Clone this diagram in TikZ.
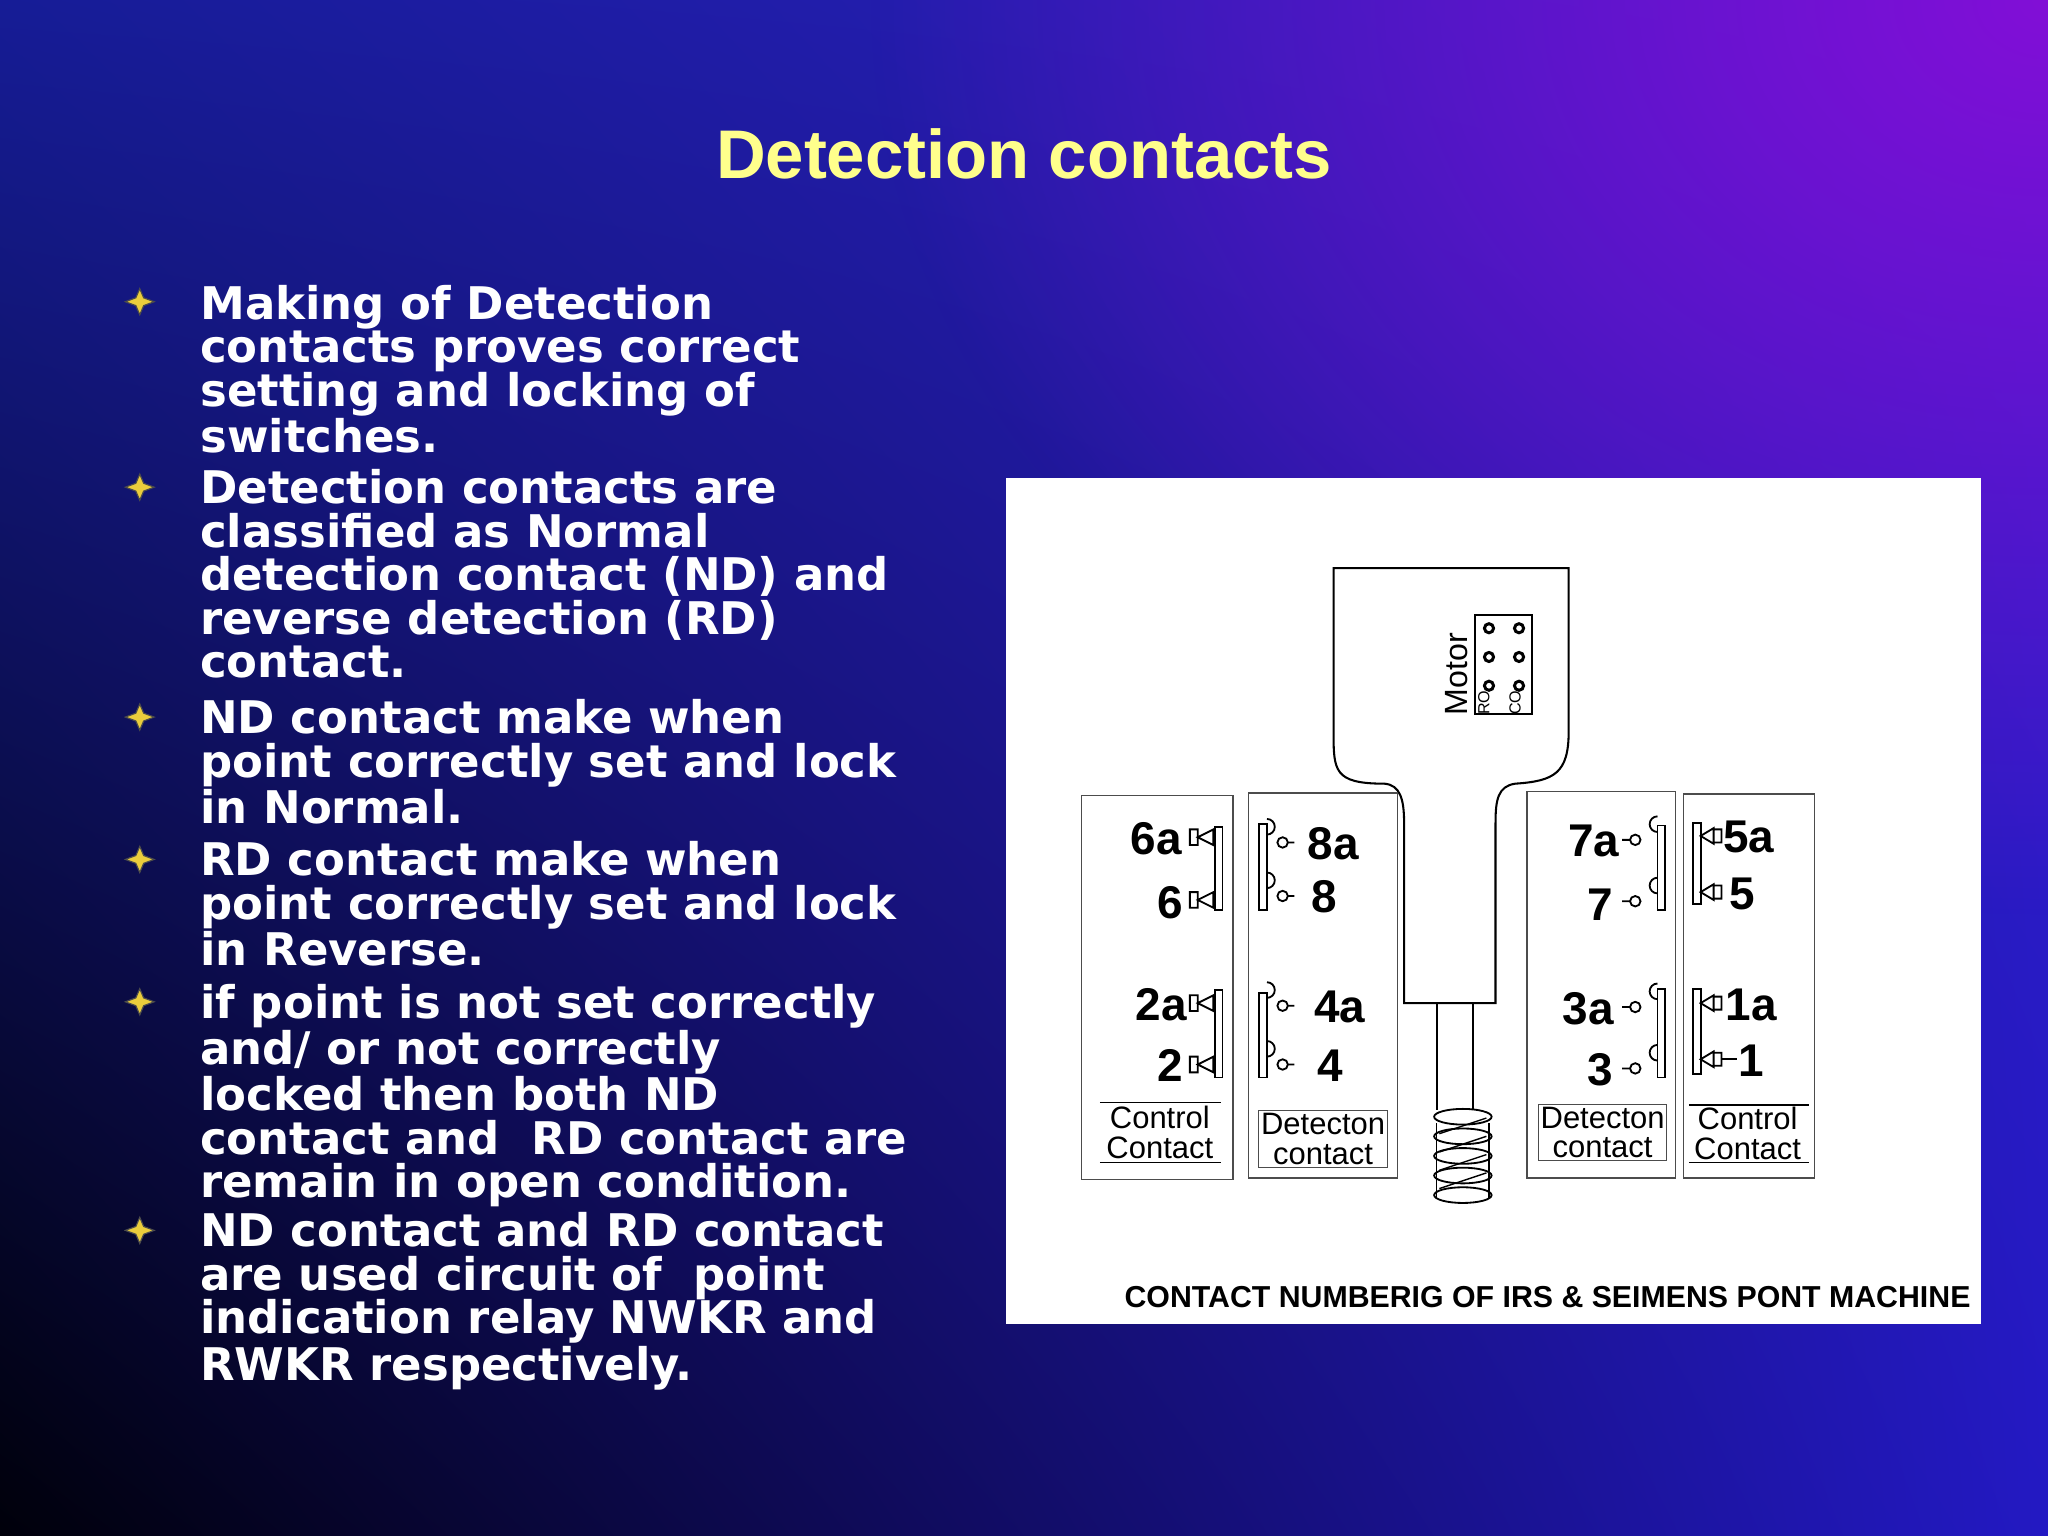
\documentclass[tikz,border=0pt]{standalone}
\usepackage{fontspec}
\usetikzlibrary{shadings,fadings}
\setmainfont{DejaVu Sans}
\newfontfamily\arial{Liberation Sans}
\definecolor{bgul}{RGB}{22,28,150}
\definecolor{bgur}{RGB}{50,30,200}
\definecolor{bgll}{RGB}{0,0,10}
\definecolor{bglr}{RGB}{35,25,195}
\definecolor{bgpurp}{RGB}{130,15,215}
\definecolor{ttl}{RGB}{255,255,140}
\definecolor{bulc}{RGB}{235,205,60}
\tikzfading[name=glow, inner color=transparent!0, outer color=transparent!100]
\begin{document}
\begin{tikzpicture}[x=0.02cm,y=-0.02cm,
  body/.style={anchor=north west,inner sep=0,align=left,text=white,font=\fontsize{19.6}{19}\selectfont\bfseries},
  bul/.style={fill=bulc,draw=black!70,line width=0.5pt},
  num/.style={inner sep=0,font=\arial\fontsize{20}{20}\selectfont\bfseries,text=black},
  captxt/.style={inner sep=1pt,align=center,font=\arial\fontsize{13.5}{13}\selectfont,text=black},
  ln/.style={draw=black,line width=0.9pt},
  bx/.style={draw=black!70,line width=0.6pt}]
\useasboundingbox (0,0) rectangle (1568,1176);
\shade[upper left=bgul,upper right=bgur,lower left=bgll,lower right=bglr] (0,0) rectangle (1568,1176);
\fill[bgpurp,path fading=glow,fit fading=true] (1568,0) ellipse (900 and 700);
\node[anchor=base,inner sep=0,text=ttl,font=\arial\fontsize{30}{30}\selectfont\bfseries] (title) at (784,137) {Detection contacts};
% bullets
\foreach \y [count=\i] in {231,373,549,658,767,942}{
  \path[bul] (107,\y-10) -- (110,\y-3) -- (118,\y) -- (110,\y+3) -- (107,\y+10) -- (104,\y+3) -- (96,\y) -- (104,\y-3) -- cycle;}
\node[body] (b1) at (153,218) {Making of Detection\\contacts proves correct\\setting and locking of\\switches.};
\node[body] (b2) at (153,359) {Detection contacts are\\classified as Normal\\detection contact (ND) and\\reverse detection (RD)\\contact.};
\node[body] (b3) at (153,535) {ND contact make when\\point correctly set and lock\\in Normal.};
\node[body] (b4) at (153,644) {RD contact make when\\point correctly set and lock\\in Reverse.};
\node[body] (b5) at (153,753) {if point is not set correctly\\and/ or not correctly\\locked then both ND\\contact and \ RD contact are\\remain in open condition.};
\node[body] (b6) at (153,928) {ND contact and RD contact\\are used circuit of \ point\\indication relay NWKR and\\RWKR respectively.};
% panel
\fill[white] (770,366) rectangle (1517,1014);
% motor housing
\draw[ln] (1060,600) .. controls (1021,600) and (1021,590) .. (1021,560) -- (1021,435) -- (1201,435) -- (1201,560)
  .. controls (1201,592) and (1190,598) .. (1160,600) .. controls (1147,602) and (1145,612) .. (1145,630) -- (1145,768) -- (1075,768) -- (1075,630)
  .. controls (1075,612) and (1072,601) .. (1060,600);
\draw[ln] (1100,768) -- (1100,850) (1128,768) -- (1128,850);
\foreach \yy in {855,870,885,900,915}{\draw[line width=0.8pt] (1120,\yy) ellipse (22 and 6);}
\foreach \yy in {862,876,890,904}{\draw[line width=0.6pt] (1102,\yy+6) -- (1138,\yy-6);}
\draw[line width=0.6pt] (1100,860) -- (1100,918) (1140,860) -- (1140,918);
\draw[ln] (1129,471) rectangle (1173,547);
\foreach \xx in {1140,1163}{\foreach \yy in {481,503,525}{\draw[line width=1.3pt] (\xx,\yy) circle (3.5);}}
\node[rotate=90,inner sep=0,font=\arial\fontsize{14}{14}\selectfont] (motor) at (1115,516) {Motor};
\node[rotate=90,inner sep=0,font=\arial\fontsize{7}{7}\selectfont] (ro) at (1136,538) {RO};
\node[rotate=90,inner sep=0,font=\arial\fontsize{7}{7}\selectfont] (co) at (1160,538) {CO};
% contact boxes
\draw[bx] (828,609) rectangle (944,903);
\draw[bx] (956,607) rectangle (1070,902);
\draw[bx] (1169,606) rectangle (1283,902);
\draw[bx] (1289,608) rectangle (1389,902);
% left control: bars right
\foreach \ya/\yb in {633/697,758/825}{\draw[line width=0.8pt] (930,\ya) rectangle (936,\yb);}
\foreach \yy in {641,689,768,815}{\draw[line width=0.8pt] (911,\yy-6) rectangle (917,\yy+6) (917,\yy) -- (929,\yy-6) -- (929,\yy+6) -- cycle;}
% left detection: bars left
\foreach \ya/\yb in {631/697,760/825}{\draw[line width=0.8pt] (964,\ya) rectangle (970,\yb);}
\foreach \yy in {645,686,770,815}{\draw[line width=0.8pt] (970,\yy-6) arc (90:-90:6) (982,\yy) circle (4) (986,\yy) -- (991,\yy);}
% right detection
\foreach \ya/\yb in {632/697,757/825}{\draw[line width=0.8pt] (1269,\ya) rectangle (1275,\yb);}
\foreach \yy in {643,690,771,818}{\draw[line width=0.8pt] (1269,\yy-6) arc (90:270:6) (1252,\yy) circle (4) (1242,\yy) -- (1248,\yy);}
% right control
\foreach \ya/\yb in {630/692,757/822}{\draw[line width=0.8pt] (1296,\ya) rectangle (1302,\yb);}
\foreach \yy in {640,683,768,811}{\draw[line width=0.8pt] (1302,\yy) -- (1312,\yy-6) -- (1312,\yy+6) -- cycle (1312,\yy-5) rectangle (1318,\yy+5);}
% numbers
\node[num,anchor=base east] (n6a) at (905,654) {6a};
\node[num,anchor=base east] (n6) at (906,703) {6};
\node[num,anchor=base east] (n2a) at (909,781) {2a};
\node[num,anchor=base east] (n2) at (906,828) {2};
\node[num,anchor=base west] (n8a) at (1001,658) {8a};
\node[num,anchor=base west] (n8) at (1004,699) {8};
\node[num,anchor=base west] (n4a) at (1006,783) {4a};
\node[num,anchor=base west] (n4) at (1008,828) {4};
\node[num,anchor=base east] (n7a) at (1240,656) {7a};
\node[num,anchor=base east] (n7) at (1235,705) {7};
\node[num,anchor=base east] (n3a) at (1236,784) {3a};
\node[num,anchor=base east] (n3) at (1235,831) {3};
\node[num,anchor=base west] (n5a) at (1319,653) {5a};
\node[num,anchor=base west] (n5) at (1324,696) {5};
\node[num,anchor=base west] (n1a) at (1321,781) {1a};
\node[num,anchor=base west] (n1) at (1331,824) {1};
\draw[line width=0.8pt] (1318,811) -- (1330,811);
% captions
\node[captxt] (c1) at (888,867) {Control\\Contact};
\draw[line width=0.5pt] (842,844) -- (935,844) (842,890) -- (935,890);
\node[captxt,draw=black!70,line width=0.4pt] (c2) at (1013,872) {Detecton\\contact};
\node[captxt,draw=black!70,line width=0.4pt] (c3) at (1227,867) {Detecton\\contact};
\node[captxt] (c4) at (1338,868) {Control\\Contact};
\draw[line width=0.5pt] (1293,846) -- (1385,846) (1293,890) -- (1385,890);
\node[anchor=base east,inner sep=0,font=\arial\fontsize{13.2}{13.2}\selectfont\bfseries] (foot) at (1509,1001) {CONTACT NUMBERIG OF IRS \& SEIMENS PONT MACHINE};
\end{tikzpicture}
\end{document}
